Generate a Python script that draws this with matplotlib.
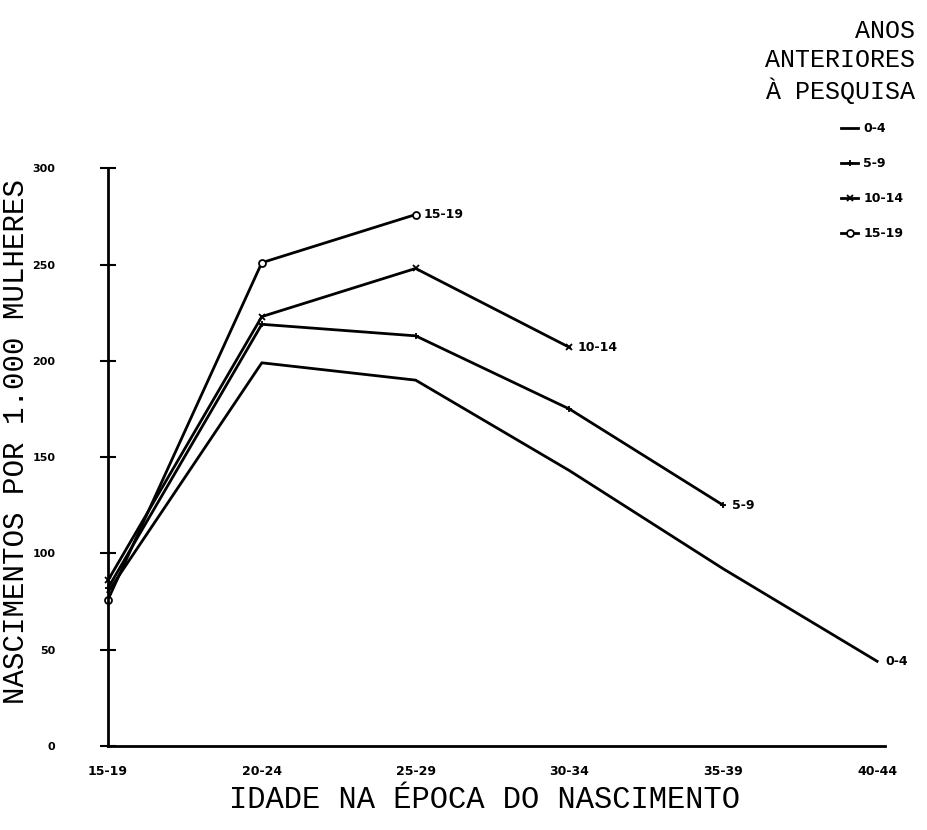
import matplotlib.pyplot as plt
from matplotlib.lines import Line2D

# age groups at time of birth
age_groups = ['15-19', '20-24', '25-29', '30-34', '35-39', '40-44']

# births per 1,000 women, by years before the survey
rate_0_4 = [80, 199, 190, 143, 92, 44]
rate_5_9 = [82, 219, 213, 175, 125]
rate_10_14 = [86, 223, 248, 207]
rate_15_19 = [76, 251, 276]

series_names = ['0-4', '5-9', '10-14', '15-19']
series_values = [rate_0_4, rate_5_9, rate_10_14, rate_15_19]
series_markers = ['', '+', 'x', 'o']

y_ticks = [0, 50, 100, 150, 200, 250, 300]

title_font = ['Liberation Mono', 'DejaVu Sans Mono']

fig = plt.figure(figsize=(9.27, 8.3), dpi=100)
ax = fig.add_axes([0.1165, 0.1012, 0.838, 0.696])

handles = []
for name, vals, mk in zip(series_names, series_values, series_markers):
    xs = list(range(len(vals)))
    ax.plot(xs, vals, color='black', lw=2.0, marker=mk if mk else None,
            ms=5, mew=1.3, mfc='white', mec='black', clip_on=False)
    ax.annotate(name, (xs[-1], vals[-1]), xytext=(6, 0), textcoords='offset points',
                va='center', ha='left', fontsize=9, fontweight='bold')
    handles.append(Line2D([], [], color='black', lw=2.0, marker=mk if mk else None,
                          ms=5, mew=1.3, mfc='white', mec='black'))

ax.set_xlim(0, 5.05)
ax.set_ylim(0, 300)
ax.set_xticks(range(len(age_groups)))
ax.set_xticklabels(age_groups, fontsize=9, fontweight='bold')
ax.set_yticks(y_ticks)
ax.set_yticklabels([str(v) for v in y_ticks], fontsize=8, fontweight='bold')
ax.tick_params(axis='x', length=0, pad=14)
ax.tick_params(axis='y', direction='inout', length=12, width=1.5, pad=32)

for side in ['top', 'right']:
    ax.spines[side].set_visible(False)
ax.spines['left'].set_linewidth(2)
ax.spines['bottom'].set_linewidth(2)

# axis titles placed directly in figure coordinates
fig.text(16 / 927, 1 - 442 / 830, 'NASCIMENTOS POR 1.000 MULHERES', rotation=90,
         ha='center', va='center', fontfamily=title_font, fontsize=21)
fig.text(484 / 927, 1 - 800 / 830, 'IDADE NA ÉPOCA DO NASCIMENTO',
         ha='center', va='center', fontfamily=title_font, fontsize=22)

fig.text(0.987, 0.977, 'ANOS\nANTERIORES\nÀ PESQUISA', ha='right', va='top',
         multialignment='right', fontfamily=title_font, fontsize=18,
         linespacing=1.25)

leg = fig.legend(handles, series_names, loc='upper left',
                 bbox_to_anchor=(0.895, 0.866), frameon=False,
                 handlelength=1.4, handletextpad=0.4, labelspacing=1.75,
                 prop={'size': 9, 'weight': 'bold'})

plt.savefig('out.png', dpi=100)
plt.close()
